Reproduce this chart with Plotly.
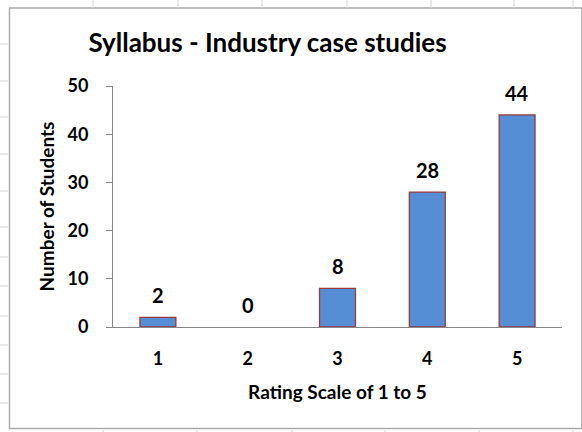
import plotly.graph_objects as go

categories = [1, 2, 3, 4, 5]
students = [2, 0, 8, 28, 44]
y_ticks = [0, 10, 20, 30, 40, 50]

W, H = 582, 432
L, R, T, B = 113, 20, 86, 105
PW, PH = W - L - R, H - T - B

def px(x):
    return (x - L) / PW

def py(y):
    return (H - B - y) / PH

FONT = "Lato"

fig = go.Figure()
fig.add_trace(go.Bar(
    x=categories, y=students,
    marker=dict(color="#558ED5",
                line=dict(color="#9B3B3A", width=[1.3 if v > 0 else 0 for v in students])),
    hoverinfo="x+y",
))

for c, v in zip(categories, students):
    fig.add_annotation(x=c, y=v, text=f"<b>{v}</b>", showarrow=False,
                       xref="x", yref="y",
                       yanchor="middle", yshift=22,
                       font=dict(family=FONT, size=20, color="#000000"))

shapes = []
grid = "#D4D4D4"
# spreadsheet cell lines outside chart
for x in [93, 178, 262, 347, 431, 514, 573]:
    shapes.append(dict(type="line", xref="paper", yref="paper",
                       x0=px(x), x1=px(x), y0=py(0), y1=py(8), line=dict(color=grid, width=1)))
for x in [103, 197, 292, 385, 479, 573]:
    shapes.append(dict(type="line", xref="paper", yref="paper",
                       x0=px(x), x1=px(x), y0=py(430), y1=py(432), line=dict(color=grid, width=1)))
for y in [44, 81, 117, 154, 191, 227, 257, 286, 316, 345, 374, 403]:
    shapes.append(dict(type="line", xref="paper", yref="paper",
                       x0=px(0), x1=px(8), y0=py(y), y1=py(y), line=dict(color=grid, width=1)))
# chart border
shapes.append(dict(type="rect", xref="paper", yref="paper",
                   x0=px(9.5), x1=px(582), y0=py(428.5), y1=py(8),
                   line=dict(color="#ABABAB", width=1.5), fillcolor="rgba(0,0,0,0)", layer="below"))

fig.update_layout(
    width=W, height=H,
    margin=dict(l=L, r=R, t=T, b=B),
    paper_bgcolor="white", plot_bgcolor="white",
    bargap=0.6,
    showlegend=False,
    shapes=shapes,
    title=dict(text="<b>Syllabus - Industry case studies</b>",
               x=267.5 / W, xref="container", xanchor="center",
               y=1 - 43 / H, yref="container", yanchor="middle",
               font=dict(family=FONT, size=26, color="#000000")),
    xaxis=dict(
        range=[0.5, 5.5], tickvals=categories, automargin=False,
        showline=True, linecolor="#868686", linewidth=1,
        ticks="", showgrid=False, zeroline=False,
        tickfont=dict(family=FONT, size=18, color="#000000", weight="bold"),
        ticklabelstandoff=15,
        title=dict(text="<b>Rating Scale of 1 to 5</b>", standoff=18,
                   font=dict(family=FONT, size=19, color="#000000")),
    ),
    yaxis=dict(
        range=[0, 50], tickvals=y_ticks, automargin=False,
        showline=True, linecolor="#868686", linewidth=1,
        ticks="outside", ticklen=6, tickcolor="#868686",
        showgrid=False, zeroline=False,
        tickfont=dict(family=FONT, size=18, color="#000000", weight="bold"),
        ticklabelstandoff=14,
        title=dict(text="<b>Number of Students</b>", standoff=7,
                   font=dict(family=FONT, size=19, color="#000000")),
    ),
)

fig.write_html("out.html", config={"displayModeBar": False},
               post_script="document.body.style.margin='0';document.body.style.padding='0';")
